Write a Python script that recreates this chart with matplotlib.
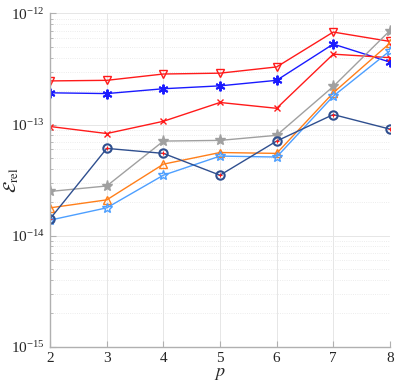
import numpy as np
import matplotlib.pyplot as plt
from matplotlib.ticker import FixedLocator, NullFormatter

plt.rcParams["font.family"] = ["Liberation Serif", "DejaVu Serif"]
plt.rcParams["mathtext.fontset"] = "stix"

# -------------------------
# Data
# -------------------------
p = [2, 3, 4, 5, 6, 7, 8]
y_ticks = [1e-15, 1e-14, 1e-13, 1e-12]

err_tri_down = [2.47e-13, 2.5e-13, 2.85e-13, 2.9e-13, 3.3e-13, 6.8e-13, 5.6e-13]
err_star_blue = [1.93e-13, 1.9e-13, 2.1e-13, 2.23e-13, 2.5e-13, 5.3e-13, 3.65e-13]
err_cross = [9.6e-14, 8.3e-14, 1.07e-13, 1.58e-13, 1.4e-13, 4.3e-13, 4.0e-13]
err_star_gray = [2.5e-14, 2.8e-14, 7.1e-14, 7.2e-14, 8.0e-14, 2.2e-13, 7.0e-13]
err_circle = [1.42e-14, 6.1e-14, 5.5e-14, 3.5e-14, 7.1e-14, 1.23e-13, 9.1e-14]
err_tri_up = [1.78e-14, 2.1e-14, 4.4e-14, 5.6e-14, 5.5e-14, 1.93e-13, 5.4e-13]
err_hex = [1.38e-14, 1.78e-14, 3.5e-14, 5.2e-14, 5.1e-14, 1.8e-13, 4.6e-13]

fig = plt.figure(figsize=(3.95, 3.84), dpi=100)
ax = fig.add_axes([0.127, 0.097, 0.86, 0.868])

lw = 1.0
ax.plot(p, err_tri_down, color="#ff1a1a", lw=lw, marker="v", ms=6,
        mfc="none", mew=1.0)
# asterisk-like marker for the blue series
ax.plot(p, err_star_blue, color="#1a1aff", lw=lw, marker=(6, 2, 0), ms=7,
        mew=1.4)
ax.plot(p, err_cross, color="#ff1a1a", lw=lw, marker="x", ms=5, mew=1.0)
ax.plot(p, err_star_gray, color="#a0a0a0", lw=lw, marker="*", ms=8)
ax.plot(p, err_tri_up, color="#ff7f1a", lw=lw, marker="^", ms=6,
        mfc="none", mew=1.0)
ax.plot(p, err_hex, color="#4d9fff", lw=lw, marker="*", ms=7,
        mfc="none", mew=1.0)
ax.plot(p, err_circle, color="#2f4f8f", lw=lw, marker="o", ms=6,
        mfc="none", mew=1.5)
ax.plot(p, err_circle, color="#ff1a1a", lw=0, marker="+", ms=3, mew=0.8)

ax.set_yscale("log")
ax.set_xlim(2, 8)
ax.set_ylim(1e-15, 1e-12)
ax.set_xticks(p)
ax.set_yticks(y_ticks)
minor = [m * t for t in y_ticks[:-1] for m in range(2, 10)]
ax.yaxis.set_minor_locator(FixedLocator(minor))
ax.yaxis.set_minor_formatter(NullFormatter())

ax.grid(True, which="major", color="#e6e6e6", lw=0.7)
ax.grid(True, which="minor", axis="y", color="#e6e6e6", lw=0.6, ls=":")
ax.set_axisbelow(True)

for side in ["top", "right"]:
    ax.spines[side].set_visible(False)
for side in ["left", "bottom"]:
    ax.spines[side].set_color("#b0b0b0")
    ax.spines[side].set_linewidth(1.0)

ax.tick_params(which="both", direction="in", colors="#b0b0b0",
               labelcolor="#262626", labelsize=11)
ax.tick_params(which="minor", length=2)
ax.tick_params(which="major", length=4, pad=4)

ax.set_xlabel("$p$", fontsize=13, color="#262626")
ax.xaxis.set_label_coords(0.5, -0.055)
ax.set_ylabel(r"$\mathcal{E}_{\rm rel}$", fontsize=13, color="#262626")
ax.yaxis.set_label_coords(-0.085, 0.5)

fig.savefig("out.png", dpi=100)
